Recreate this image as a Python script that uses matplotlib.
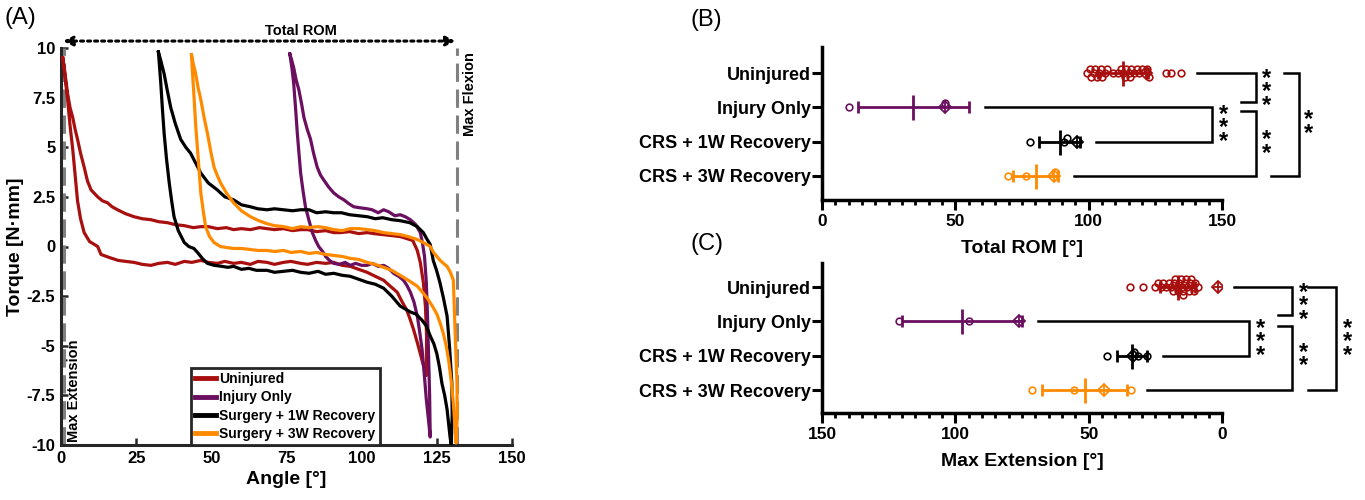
import numpy as np
import matplotlib
matplotlib.use('Agg')
import matplotlib.pyplot as plt

plt.rcParams['font.family'] = ['Liberation Sans', 'DejaVu Sans']
plt.rcParams['font.weight'] = 'bold'
plt.rcParams['axes.labelweight'] = 'bold'
plt.rcParams['axes.unicode_minus'] = False

# ---- panel A: torque-angle loops (angle deg, torque N*mm) ----
uninj_ang_a = [0.6, 1.2, 2.2, 3.0, 3.9, 4.7, 5.5, 6.5, 7.7, 9.5, 12.2, 13.3, 16, 19, 21.5, 24.3, 27, 29.9, 32.5,
               35.4, 38, 41, 43.5, 46.5, 49, 52, 54.5, 57.4, 60, 63, 65.5, 68.5, 71, 74, 76.5, 79.7, 82, 85, 88,
               90.7, 93.5, 96.2, 99, 101.8, 104.5, 107.3, 109.5, 111.8, 113.5, 115, 116.2, 117.3, 118.8, 120.2, 121.5]
uninj_trq_a = [9.5, 8.7, 7.4, 6.1, 4.9, 3.6, 2.3, 1.4, 0.7, 0.25, 0.0, -0.4, -0.55, -0.7, -0.75, -0.8, -0.9, -0.95,
               -0.85, -0.8, -0.9, -0.75, -0.8, -0.7, -0.8, -0.85, -0.75, -0.85, -0.8, -0.9, -0.75, -0.8, -0.9, -0.8,
               -0.75, -0.85, -0.9, -0.8, -0.85, -0.8, -0.95, -1.0, -1.15, -1.3, -1.5, -1.7, -2.0, -2.3, -2.8, -3.2,
               -3.7, -4.2, -5.0, -5.8, -6.5]
uninj_ang_b = [121.6, 121.2, 120.5, 119.5, 118.5, 117, 115, 112.8, 110, 107, 104, 101.9, 99, 96, 93, 90.7, 88, 85,
               82, 79.7, 77, 74, 71, 68.5, 66, 63, 60, 57.4, 55, 52, 49, 46.5, 44, 41, 38, 35.4, 32.5, 29.9, 27,
               24.3, 21.5, 18.8, 17, 15.5, 13.8, 12.2, 10, 8.8, 7.7, 6.5, 5.5, 4.7, 3.9, 3.0, 2.2, 1.1, 0.6]
uninj_trq_b = [-4.5, -3.0, -1.8, -0.8, -0.2, 0.3, 0.4, 0.5, 0.55, 0.6, 0.65, 0.7, 0.65, 0.75, 0.7, 0.7, 0.8, 0.75,
               0.85, 0.85, 0.8, 0.9, 0.85, 0.9, 0.95, 0.85, 0.9, 0.85, 0.95, 0.9, 1.0, 1.0, 0.95, 1.05, 1.1, 1.2,
               1.25, 1.35, 1.4, 1.5, 1.65, 1.85, 2.0, 2.2, 2.3, 2.5, 2.85, 3.3, 4.0, 4.7, 5.4, 5.9, 6.5, 7.0, 7.7,
               9.0, 9.5]

inj_ang_a = [76.1, 76.8, 77.4, 78.0, 78.6, 79.2, 79.7, 80.5, 81.3, 82.5, 83.6, 84.7, 85.7, 87, 88, 89.3, 90.7,
             92.5, 94.5, 96.2, 98, 100, 101.8, 103.5, 105.5, 107.3, 109, 110.6, 112.3, 113.9, 115, 116.2, 117.4,
             118.5, 119.3, 120.1, 120.8, 121.5, 122.2, 122.8]
inj_trq_a = [9.7, 9.0, 8.2, 7.0, 5.7, 4.6, 3.7, 2.8, 2.0, 1.3, 0.7, 0.3, 0.0, -0.25, -0.5, -0.7, -0.85, -0.9, -0.8,
             -0.95, -0.85, -0.95, -0.95, -0.85, -1.0, -0.95, -1.1, -1.35, -1.5, -1.7, -1.95, -2.3, -2.8, -3.5,
             -4.3, -5.2, -6.4, -7.7, -8.7, -9.6]
inj_ang_b = [122.6, 122.2, 121.9, 121.5, 120.9, 120.2, 119.5, 118, 116.2, 114.5, 112.8, 111, 109, 107.3, 105.5,
             103.5, 101.9, 99.5, 97.4, 95.8, 94.1, 92.4, 90.7, 89, 87.4, 86.3, 85.2, 84, 83, 81.9, 80.8, 80, 79.1,
             78.2, 77.4, 76.7, 76.1]
inj_trq_b = [-7.5, -5.2, -3.5, -1.8, -0.5, 0.2, 0.7, 1.1, 1.35, 1.5, 1.6, 1.55, 1.75, 1.85, 1.7, 1.85, 1.9, 1.95,
             2.0, 2.15, 2.35, 2.5, 2.7, 3.0, 3.35, 3.6, 4.0, 4.7, 5.4, 5.9, 6.5, 7.2, 7.9, 8.4, 9.0, 9.4, 9.7]

w1_ang_a = [32.4, 32.8, 33.2, 33.7, 34.3, 35.1, 36, 36.8, 37.6, 39, 41, 42.5, 44.2, 45.4, 47, 48.7, 51, 53.5, 55.5,
            57.4, 60, 62.5, 65, 68.5, 71, 74, 77, 79.7, 82.5, 85.5, 88, 90.7, 93.5, 96.2, 99, 101.8, 104.5, 107.3,
            110, 112.8, 114.5, 116.2, 118, 120, 121.5, 122.8, 124, 125, 125.9, 126.7, 127.6, 128.4, 128.9, 129.4,
            129.8]
w1_trq_a = [9.8, 9.0, 8.2, 7.0, 5.7, 4.4, 3.2, 2.3, 1.5, 0.8, 0.2, 0.0, -0.1, -0.3, -0.6, -0.85, -0.95, -1.0, -1.05,
            -1.0, -1.15, -1.1, -1.2, -1.2, -1.3, -1.25, -1.2, -1.3, -1.35, -1.25, -1.4, -1.35, -1.45, -1.5, -1.65,
            -1.8, -1.9, -2.1, -2.5, -3.0, -3.15, -3.3, -3.4, -3.7, -4.0, -4.5, -4.9, -5.4, -6.1, -6.9, -7.5, -8.2,
            -8.9, -9.6, -10.0]
w1_ang_b = [130.1, 130, 129.2, 128.4, 127.2, 126, 124.9, 123.8, 122.8, 121.6, 120.5, 118.5, 116, 112.8, 110, 107,
            104.5, 101.9, 99, 96, 93.3, 90.6, 88, 85, 82.5, 79.7, 77, 74, 71, 68.5, 65.5, 63, 60, 57.4, 54.5, 52, 49,
            46.5, 44.8, 43.1, 41.5, 39.8, 38, 36.5, 35.3, 34.3, 33.3, 32.4]
w1_trq_b = [-8.5, -6.9, -5.0, -3.5, -2.6, -1.8, -1.2, -0.7, 0.1, 0.4, 0.7, 1.0, 1.2, 1.3, 1.35, 1.45, 1.4, 1.5,
            1.55, 1.6, 1.7, 1.7, 1.75, 1.7, 1.85, 1.85, 1.8, 1.85, 1.9, 1.85, 1.9, 2.0, 2.1, 2.35, 2.5, 2.85, 3.2,
            3.7, 4.2, 4.7, 5.0, 5.4, 6.2, 7.0, 7.9, 8.7, 9.3, 9.8]

w3_ang_a = [43.4, 43.8, 44.3, 44.8, 45.4, 46, 46.5, 47.3, 48.1, 49.4, 50.9, 53, 55, 57.4, 60, 62.9, 65.5, 68.5, 71,
            74, 76.5, 79.7, 82.5, 85, 88, 90.7, 93.5, 96.2, 99, 101.8, 104.5, 107.3, 110, 112.8, 115.5, 118.5, 120.2,
            121.8, 123.5, 125, 126.2, 127.2, 128.1, 128.9, 129.8, 130.5, 131, 131.4]
w3_trq_a = [9.65, 8.6, 7.4, 6.1, 4.9, 3.7, 2.7, 1.8, 1.0, 0.5, 0.2, 0.0, -0.05, -0.1, -0.1, -0.15, -0.2, -0.2, -0.25,
            -0.2, -0.3, -0.25, -0.35, -0.3, -0.4, -0.45, -0.5, -0.6, -0.65, -0.8, -0.9, -1.05, -1.2, -1.45, -1.7,
            -2.0, -2.3, -2.6, -3.0, -3.4, -3.9, -4.4, -5.0, -5.7, -6.8, -7.9, -9.0, -9.9]
w3_ang_b = [131.8, 131.7, 131.3, 130.9, 130.5, 129.5, 128.4, 127.2, 126.1, 125, 123.9, 122.8, 120.5, 118.5, 115.5,
            112.8, 110, 107.3, 104.5, 101.9, 99, 96.2, 93.5, 90.7, 88, 85.2, 82.5, 79.7, 77, 74.1, 71, 68.5, 65.8,
            63, 60, 57.4, 55, 53.1, 51.9, 50.9, 49.8, 48.7, 47.6, 46.5, 45.6, 44.8, 44, 43.4]
w3_trq_b = [-8.5, -6.9, -5.2, -3.5, -1.7, -1.3, -1.0, -0.85, -0.7, -0.5, -0.3, 0.0, 0.2, 0.35, 0.5, 0.6, 0.65, 0.7,
            0.8, 0.85, 0.9, 0.9, 0.8, 0.85, 0.95, 1.0, 0.95, 1.0, 0.9, 1.0, 1.05, 1.15, 1.3, 1.5, 1.8, 2.2, 2.7,
            3.2, 3.6, 4.0, 4.8, 5.7, 6.5, 7.4, 8.0, 8.7, 9.2, 9.65]

max_extension = 1.0
max_flexion = 131.8

curve_labels = ['Uninjured', 'Injury Only', 'Surgery + 1W Recovery', 'Surgery + 3W Recovery']
group_labels = ['Uninjured', 'Injury Only', 'CRS + 1W Recovery', 'CRS + 3W Recovery']
colors = ['#A80F0F', '#6B0F60', '#000000', '#FF8A00']

# ---- panel B: total ROM (deg); rep = sample shown in A ----
rom_uninjured = [99.5, 100.5, 101, 102, 102.5, 103, 104, 104.5, 105, 106, 107, 109, 111, 112, 113, 113.5, 114, 115,
                 115.5, 116, 117, 118, 119, 120, 122, 122.5, 129, 131, 134.5]
rom_injury = [10.1, 46.3]
rom_1w = [78, 90.8, 91.9]
rom_3w = [69.6, 76.6, 87.2]
rom_rep = [121.4, 46.0, 95.7, 87.0]

# ---- panel C: max extension (deg) ----
ext_uninjured = [34.5, 29.5, 25, 24, 23, 22, 21, 20, 19, 18.5, 18, 17.5, 17, 16.5, 16, 15.5, 15, 14.8, 14.5, 14,
                 13.5, 13, 12.5, 12, 11.5, 11, 10.5, 10, 9]
ext_injury = [121, 95]
ext_1w = [43, 33, 31.5, 28]
ext_3w = [71.4, 55.6, 34.2]
ext_rep = [1.5, 76.3, 33.5, 44.4]

fig = plt.figure(figsize=(13.65, 5), dpi=100)

# ================= panel A =================
axA = fig.add_axes([61 / 1365, 55 / 500, 451 / 1365, 397 / 500])
loops = [(uninj_ang_a, uninj_trq_a, uninj_ang_b, uninj_trq_b),
         (inj_ang_a, inj_trq_a, inj_ang_b, inj_trq_b),
         (w1_ang_a, w1_trq_a, w1_ang_b, w1_trq_b),
         (w3_ang_a, w3_trq_a, w3_ang_b, w3_trq_b)]
handles = []
for (aa, ta, ab, tb), col, lab in zip(loops, colors, curve_labels):
    h, = axA.plot(np.concatenate([aa, ab]), np.concatenate([ta, tb]), color=col, lw=2.3, label=lab, zorder=3)
    handles.append(h)

for x in (max_extension, max_flexion):
    axA.plot([x, x], [-10, 10], color='#808080', lw=2.2, dashes=(6, 2.5), zorder=2, clip_on=False)

axA.annotate('', xy=(max_flexion - 0.6, 10.35), xytext=(0.7, 10.35),
             arrowprops=dict(arrowstyle='<|-|>,head_length=0.55,head_width=0.28', lw=2.2,
                             ls=(0, (1, 1.3)), color='k', shrinkA=0, shrinkB=0),
             annotation_clip=False)
axA.text(79.7, 10.86, 'Total ROM', ha='center', va='center', fontsize=10.5)
axA.text(136, 9.8, 'Max Flexion', rotation=90, ha='center', va='top', fontsize=10.5)
axA.text(4.3, -9.85, 'Max Extension', rotation=90, ha='center', va='bottom', fontsize=10.5)

axA.set_xlim(0, 150)
axA.set_ylim(-10, 10)
axA.set_xticks(np.arange(0, 151, 25))
axA.set_yticks(np.arange(-10, 10.1, 2.5))
axA.set_yticklabels(['%g' % v for v in np.arange(-10, 10.1, 2.5)])
for s in ('top', 'right'):
    axA.spines[s].set_visible(False)
for s in ('left', 'bottom'):
    axA.spines[s].set_linewidth(2.2)
    axA.spines[s].set_color('#262626')
axA.tick_params(direction='in', length=5, width=1.8, color='#262626', labelsize=12, pad=4)
axA.set_xlabel('Angle [°]', fontsize=14, labelpad=4)
axA.set_ylabel('Torque [N·mm]', fontsize=14, labelpad=2)

leg = axA.legend(handles=handles, loc='lower left', bbox_to_anchor=(0.288, 0.0), borderaxespad=0,
                 fontsize=10, handlelength=1.5, handletextpad=0.25, labelspacing=0.3,
                 borderpad=0.3, fancybox=False, framealpha=1)
leg.get_frame().set_edgecolor('#262626')
leg.get_frame().set_linewidth(2)
for lh in leg.get_lines():
    lh.set_linewidth(3.5)


# ================= panels B, C =================
def swarm(values, step=0.12, dx=2.0):
    placed = []
    offs = []
    slots = [0, -1, 1, -2, 2, -3, 3]
    for v in values:
        best, best_n = 0, None
        for sl in slots:
            n = sum(1 for pv, ps in placed if ps == sl and abs(pv - v) < dx)
            if n == 0:
                best, best_n = sl, 0
                break
            if best_n is None or n < best_n:
                best, best_n = sl, n
        placed.append((v, best))
        offs.append(best * step)
    return np.array(offs)


def dot_panel(ax, groups, reps, reverse=False):
    starts = []
    for i, (vals, rep, col) in enumerate(zip(groups, reps, colors)):
        allv = np.array([rep] + list(vals))
        offs = swarm(allv)
        ax.plot(allv[1:], i + offs[1:], 'o', mfc='none', mec=col, ms=4.8, mew=1.2, zorder=3)
        ax.plot(rep, i + offs[0], 'D', mfc='none', mec=col, ms=6.5, mew=1.3, zorder=4)
        ax.plot(rep, i + offs[0], '+', color=col, ms=9, mew=1.3, zorder=4)
        m = allv.mean()
        sd = allv.std(ddof=1)
        ax.errorbar(m, i, xerr=sd, fmt='none', ecolor=col, elinewidth=2, capsize=4.6, capthick=2, zorder=2)
        ax.plot(m, i, '|', color=col, ms=18, mew=2, zorder=2)
        if reverse:
            starts.append(min(allv.min(), m - sd) - 6)
        else:
            starts.append(max(allv.max(), m + sd) + 6)
    ax.set_yticks(range(4))
    ax.set_yticklabels(group_labels)
    ax.set_xticks([0, 50, 100, 150])
    ax.set_xticks(np.arange(0, 151, 5), minor=True)
    for s in ('top', 'right'):
        ax.spines[s].set_visible(False)
    for s in ('left', 'bottom'):
        ax.spines[s].set_linewidth(2.5)
    ax.tick_params(axis='y', direction='out', length=7, width=2.2, labelsize=13, pad=1)
    ax.tick_params(axis='x', which='major', direction='out', length=7, width=2.2, labelsize=12.5, pad=3)
    ax.tick_params(axis='x', which='minor', direction='out', length=3.5, width=2)
    return starts


def bracket(ax, x0, y0, x1, y1, xv, nstars, xs, ys):
    ax.plot([x0, xv, xv, x1], [y0, y0, y1, y1], color='k', lw=1.8, clip_on=False, solid_joinstyle='miter')
    ax.text(xs, ys, '\n'.join(['*'] * nstars), ha='center', va='center', fontsize=17,
            linespacing=0.48, clip_on=False)


axB = fig.add_axes([822 / 1365, 300 / 500, 400 / 1365, 153 / 500])
stB = dot_panel(axB, [rom_uninjured, rom_injury, rom_1w, rom_3w], rom_rep)
axB.set_xlim(0, 150)
axB.set_ylim(3.7, -0.76)
axB.set_xlabel('Total ROM [°]', fontsize=14, labelpad=8)
bracket(axB, stB[0], 0, 157, 0.85, 162.7, 3, 166.5, 0.55)
bracket(axB, stB[1], 1, stB[2], 2, 146.2, 3, 150.5, 1.6)
bracket(axB, 157, 1.11, stB[3], 3, 162.7, 2, 166.5, 2.15)
bracket(axB, 173.2, 0, 168.4, 3, 178.9, 2, 182.6, 1.55)

axC = fig.add_axes([822 / 1365, 87 / 500, 400 / 1365, 150 / 500])
stC = dot_panel(axC, [ext_uninjured, ext_injury, ext_1w, ext_3w], ext_rep, reverse=True)
axC.set_xlim(150, 0)
axC.set_ylim(3.67, -0.7)
axC.set_xlabel('Max Extension [°]', fontsize=14, labelpad=8)
bracket(axC, stC[0], 0, -21, 0.82, -26.3, 3, -30.5, 0.55)
bracket(axC, stC[1], 1, stC[2], 2, -10.2, 3, -14.3, 1.6)
bracket(axC, -21, 1.14, stC[3], 3, -26.3, 2, -30.5, 2.1)
bracket(axC, -32.3, 0, -32.3, 3, -42.9, 3, -47, 1.6)

fig.text(5 / 1365, 1 - 18 / 500, '(A)', fontsize=17, fontweight='normal', va='center', ha='left')
fig.text(690 / 1365, 1 - 20 / 500, '(B)', fontsize=17, fontweight='normal', va='center', ha='left')
fig.text(690 / 1365, 1 - 244 / 500, '(C)', fontsize=17, fontweight='normal', va='center', ha='left')

fig.savefig('out.png', dpi=100)
